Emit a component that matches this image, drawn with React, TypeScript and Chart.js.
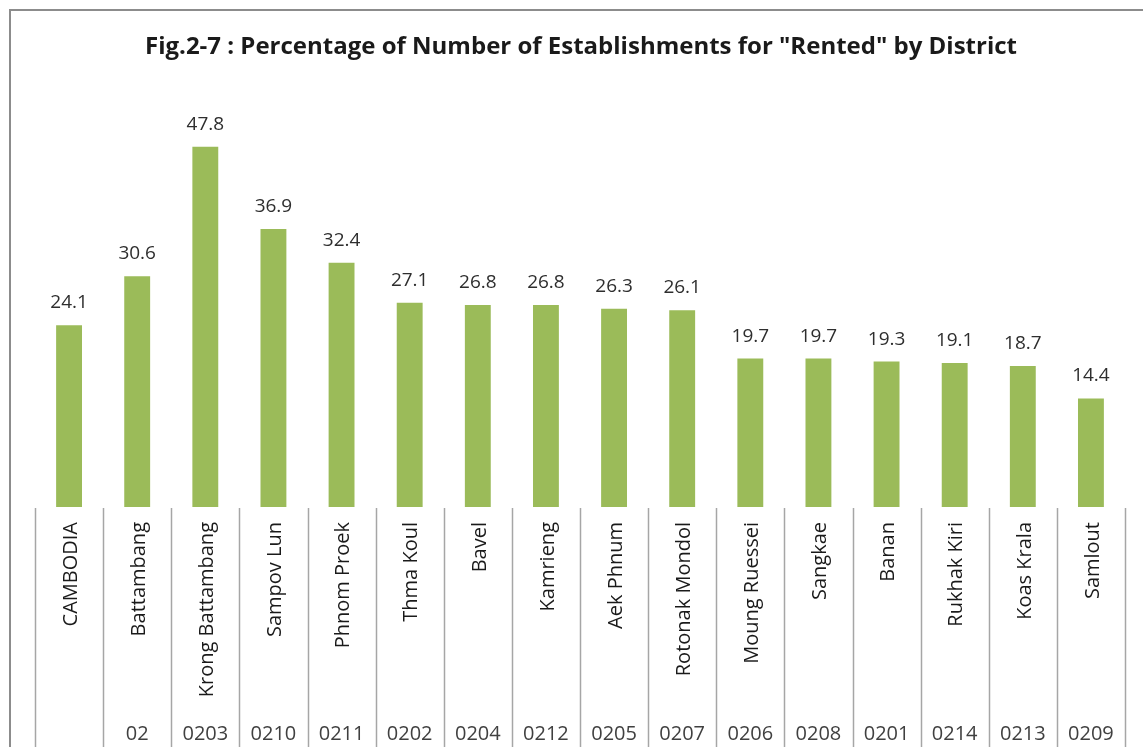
import React, { useEffect, useRef } from "react";
import { Chart, registerables } from "chart.js";

Chart.register(...registerables);

const chartTitle = 'Fig.2-7 : Percentage of Number of Establishments for "Rented" by District';
const districts = [
  "CAMBODIA",
  "Battambang",
  "Krong Battambang",
  "Sampov Lun",
  "Phnom Proek",
  "Thma Koul",
  "Bavel",
  "Kamrieng",
  "Aek Phnum",
  "Rotonak Mondol",
  "Moung Ruessei",
  "Sangkae",
  "Banan",
  "Rukhak Kiri",
  "Koas Krala",
  "Samlout",
];
const codes = ["", "02", "0203", "0210", "0211", "0202", "0204", "0212", "0205", "0207", "0206", "0208", "0201", "0214", "0213", "0209"];
const rentedPct = [24.1, 30.6, 47.8, 36.9, 32.4, 27.1, 26.8, 26.8, 26.3, 26.1, 19.7, 19.7, 19.3, 19.1, 18.7, 14.4];

const tablePlugin = {
  id: "tableAxis",
  beforeDraw(chart: any) {
    const { ctx, width, height } = chart;
    ctx.save();
    ctx.fillStyle = "#ffffff";
    ctx.fillRect(0, 0, width, height);
    ctx.strokeStyle = "#8c8c8c";
    ctx.lineWidth = 2;
    ctx.beginPath();
    ctx.moveTo(10, height);
    ctx.lineTo(10, 10);
    ctx.lineTo(width, 10);
    ctx.stroke();
    ctx.restore();
  },
  afterDatasetsDraw(chart: any) {
    const { ctx, chartArea, scales, height } = chart;
    const x = scales.x;
    const meta = chart.getDatasetMeta(0);
    const n = districts.length;
    const step = (chartArea.right - chartArea.left) / n;
    ctx.save();

    // title
    ctx.fillStyle = "#1a1a1a";
    ctx.font = "bold 24px 'Open Sans'";
    ctx.textAlign = "center";
    ctx.textBaseline = "alphabetic";
    ctx.fillText(chartTitle, 581, 54);

    // data labels
    ctx.fillStyle = "#2e2e2e";
    ctx.font = "19px 'Open Sans'";
    meta.data.forEach((bar: any, i: number) => {
      ctx.fillText(rentedPct[i].toFixed(1), bar.x, bar.y - 17);
    });

    // table grid lines
    ctx.strokeStyle = "#a6a6a6";
    ctx.lineWidth = 1.5;
    for (let i = 0; i <= n; i++) {
      const px = Math.round(x.getPixelForValue(0) - step / 2 + i * step) + 0.5;
      ctx.beginPath();
      ctx.moveTo(px, chartArea.bottom + 1);
      ctx.lineTo(px, height);
      ctx.stroke();
    }

    // rotated names
    ctx.fillStyle = "#1a1a1a";
    ctx.font = "20px 'Open Sans'";
    for (let i = 0; i < n; i++) {
      const cx = x.getPixelForValue(i) + 2;
      ctx.save();
      ctx.translate(cx, chartArea.bottom + 15);
      ctx.rotate(-Math.PI / 2);
      ctx.textAlign = "right";
      ctx.textBaseline = "middle";
      ctx.fillText(districts[i], 0, 0);
      ctx.restore();
    }

    // codes
    ctx.fillStyle = "#404040";
    ctx.font = "20px 'Open Sans'";
    ctx.textAlign = "center";
    ctx.textBaseline = "alphabetic";
    for (let i = 0; i < n; i++) {
      if (codes[i]) ctx.fillText(codes[i], x.getPixelForValue(i), 740);
    }
    ctx.restore();
  },
};

export default function App() {
  const canvasRef = useRef<HTMLCanvasElement | null>(null);

  useEffect(() => {
    if (!canvasRef.current) return;
    const chart = new Chart(canvasRef.current, {
      type: "bar",
      data: {
        labels: districts,
        datasets: [
          {
            data: rentedPct,
            backgroundColor: "#9bbb59",
            borderWidth: 0,
            barPercentage: 0.38,
            categoryPercentage: 1,
          },
        ],
      },
      options: {
        animation: false,
        responsive: true,
        maintainAspectRatio: false,
        layout: { padding: { left: 35, right: 18, top: 100, bottom: 240 } },
        plugins: {
          legend: { display: false },
          title: { display: false },
          tooltip: { enabled: false },
        },
        scales: {
          x: { display: false, grid: { display: false } },
          y: { display: false, min: 0, max: 54, grid: { display: false } },
        },
      },
      plugins: [tablePlugin],
    });
    return () => chart.destroy();
  }, []);

  return (
    <div style={{ position: "fixed", left: 0, top: 0, width: 1143, height: 747, background: "#fff" }}>
      <canvas ref={canvasRef} />
    </div>
  );
}
